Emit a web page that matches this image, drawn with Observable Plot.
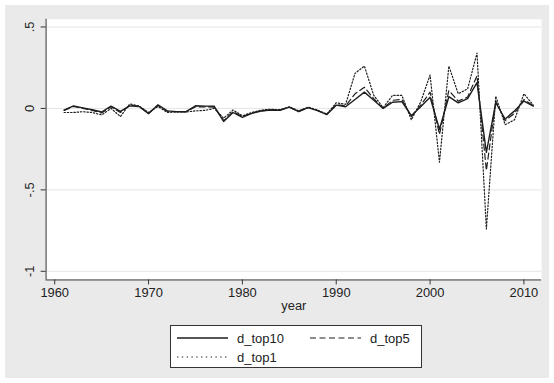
<!DOCTYPE html>
<html>
<head>
<meta charset="utf-8">
<script src="https://cdn.jsdelivr.net/npm/d3@7"></script>
<script src="https://cdn.jsdelivr.net/npm/@observablehq/plot@0.6"></script>
<style>
  html, body { margin: 0; padding: 0; background: #ffffff; }
  #wrap { position: relative; width: 544px; height: 373px; margin: 5px; background: #eaeaea; overflow: hidden; }
  #chart { position: absolute; left: -5px; top: -5px; }
  #legend { position: absolute; left: 165px; top: 320px; width: 250px; height: 41px; background: #fff; border: 1px solid #333;
            font-family: "Liberation Sans", Arial, sans-serif; font-size: 13px; color: #222; }
  .item { position: absolute; display: flex; align-items: center; }
  .item svg { margin-right: 9px; }
</style>
</head>
<body>
<div id="wrap">
  <div id="chart"></div>
  <div id="legend"></div>
</div>
<script>
const years = [1961,1962,1963,1964,1965,1966,1967,1968,1969,1970,1971,1972,1973,1974,1975,1976,1977,1978,1979,1980,1981,1982,1983,1984,1985,1986,1987,1988,1989,1990,1991,1992,1993,1994,1995,1996,1997,1998,1999,2000,2001,2002,2003,2004,2005,2006,2007,2008,2009,2010,2011];
const d_top10 = [-0.010,0.015,0.003,-0.008,-0.022,0.014,-0.018,0.016,0.012,-0.032,0.022,-0.015,-0.020,-0.020,0.016,0.014,0.013,-0.080,-0.025,-0.055,-0.030,-0.016,-0.010,-0.012,0.008,-0.020,0.005,-0.013,-0.038,0.020,0.010,0.055,0.100,0.050,0.000,0.038,0.042,-0.045,0.010,0.068,-0.128,0.072,0.034,0.060,0.158,-0.270,0.035,-0.065,-0.015,0.045,0.014];
const d_top5 = [-0.012,0.012,0.000,-0.012,-0.028,0.010,-0.025,0.020,0.012,-0.030,0.018,-0.018,-0.020,-0.020,0.010,0.010,0.008,-0.075,-0.020,-0.050,-0.028,-0.015,-0.008,-0.010,0.008,-0.018,0.006,-0.012,-0.036,0.025,0.015,0.090,0.130,0.060,0.000,0.050,0.055,-0.050,0.020,0.100,-0.160,0.110,0.045,0.070,0.200,-0.380,0.045,-0.075,-0.030,0.055,0.015];
const d_top1 = [-0.025,-0.025,-0.020,-0.025,-0.040,0.000,-0.050,0.028,0.015,-0.025,0.012,-0.025,-0.022,-0.022,-0.015,-0.012,0.000,-0.060,-0.010,-0.045,-0.025,-0.010,-0.005,-0.008,0.010,-0.015,0.008,-0.010,-0.035,0.035,0.025,0.215,0.260,0.080,0.005,0.080,0.080,-0.070,0.040,0.205,-0.330,0.260,0.090,0.120,0.340,-0.740,0.075,-0.100,-0.070,0.090,0.020];

const xTicks = [1960,1970,1980,1990,2000,2010];
const yTicks = [-1,-0.5,0,0.5];
const yTickLabels = ["-1","-.5","0",".5"];
const seriesNames = ["d_top10","d_top5","d_top1"];
const seriesValues = [d_top10, d_top5, d_top1];
const dashes = [null, "6,3.5", "1.4,1.9"];

const rows = [];
seriesNames.forEach((name, i) => years.forEach((yr, j) => rows.push({series: name, year: yr, value: seriesValues[i][j]})));

const xDomain = [1959.08, 2011.88];
const yDomain = [-1.053, 0.547];
const font = "Liberation Sans, Arial, sans-serif";

const marks = [
  Plot.frame({fill: "white", stroke: null}),
  Plot.ruleY(yTicks, {stroke: "#e4e4e4", strokeWidth: 1}),
  ...seriesNames.map((name, i) => Plot.line(rows.filter(r => r.series === name), {
    x: "year", y: "value", stroke: "#1e1e1e", strokeWidth: i === 0 ? 1.4 : 1.2,
    strokeDasharray: dashes[i]
  })),
  Plot.ruleX([xDomain[0]], {stroke: "#333", strokeWidth: 1}),
  Plot.ruleY([yDomain[0]], {stroke: "#333", strokeWidth: 1}),
  Plot.axisY(yTicks, {tickSize: 5, tickFormat: () => "", label: null, stroke: "#333"}),
  Plot.text(yTicks, {y: d => d, text: (d, i) => yTickLabels[i], frameAnchor: "left", dx: -16, rotate: -90,
    textAnchor: "middle", fontSize: 13, fill: "#222", fontFamily: font}),
  Plot.axisX(xTicks, {tickSize: 5, tickPadding: 3, tickFormat: d => String(d), fontSize: 13,
    label: null, stroke: "#333", color: "#222"}),
  Plot.text(["year"], {x: (xDomain[0] + xDomain[1]) / 2, frameAnchor: "bottom", dy: 30, text: d => d,
    fontSize: 13, fill: "#222", fontFamily: font})
];

const chart = Plot.plot({
  width: 554, height: 330,
  marginLeft: 46, marginRight: 8, marginTop: 19, marginBottom: 48,
  style: {fontFamily: font, fontSize: "13px", background: "transparent", color: "#222"},
  x: {domain: xDomain, axis: null},
  y: {domain: yDomain, axis: null},
  marks
});
document.getElementById("chart").appendChild(chart);

// legend
const legend = document.getElementById("legend");
const pos = [[6, 12], [139, 12], [6, 31]];
seriesNames.forEach((name, i) => {
  const div = document.createElement("div");
  div.className = "item";
  div.style.left = pos[i][0] + "px";
  div.style.top = (pos[i][1] - 8) + "px";
  div.style.height = "16px";
  const svg = d3.create("svg").attr("width", 51).attr("height", 16);
  svg.append("line").attr("x1", 0).attr("x2", 51).attr("y1", 8).attr("y2", 8)
    .attr("stroke", "#1e1e1e").attr("stroke-width", i === 0 ? 1.4 : 1.2)
    .attr("stroke-dasharray", dashes[i] === null ? null : (i === 1 ? "6,3.5" : "1.4,3.4"));
  div.appendChild(svg.node());
  const span = document.createElement("span");
  span.textContent = name;
  div.appendChild(span);
  legend.appendChild(div);
});
</script>
</body>
</html>
